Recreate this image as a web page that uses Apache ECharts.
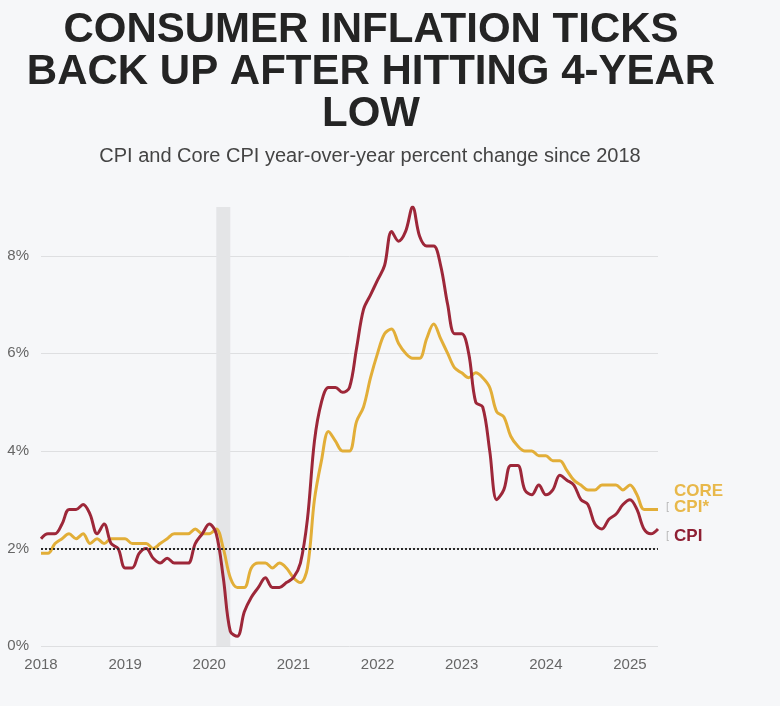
<!DOCTYPE html>
<html>
<head>
<meta charset="utf-8">
<title>Consumer inflation ticks back up after hitting 4-year low</title>
<script src="https://cdn.jsdelivr.net/npm/echarts@6/dist/echarts.min.js"></script>
<style>
  html, body { margin: 0; padding: 0; background: #f6f7f9; }
  #chart { width: 780px; height: 706px; }
</style>
</head>
<body>
<div id="chart"></div>
<script>
// monthly categories, Jan 2018 .. May 2025
const years = ['2018', '2019', '2020', '2021', '2022', '2023', '2024', '2025']
const lastMonth = '2025-05'
const months = []
years.forEach(y => {
  for (let m = 1; m <= 12; m++) {
    const key = y + '-' + String(m).padStart(2, '0')
    if (key <= lastMonth) months.push(key)
  }
})

// year-over-year % change
const cpi = [
  2.2, 2.3, 2.3, 2.5, 2.8, 2.8, 2.9, 2.7, 2.3, 2.5, 2.1, 2.0, // 2018
  1.6, 1.6, 1.9, 2.0, 1.8, 1.7, 1.8, 1.7, 1.7, 1.7, 2.1, 2.3, // 2019
  2.5, 2.3, 1.4, 0.3, 0.2, 0.7, 1.0, 1.2, 1.4, 1.2, 1.2, 1.3, // 2020
  1.4, 1.7, 2.6, 4.2, 5.0, 5.3, 5.3, 5.2, 5.3, 6.1, 6.9, 7.2, // 2021
  7.5, 7.8, 8.5, 8.3, 8.5, 9.0, 8.4, 8.2, 8.2, 7.8, 7.0, 6.4, // 2022
  6.4, 6.0, 5.0, 4.9, 4.0, 3.0, 3.2, 3.7, 3.7, 3.2, 3.1, 3.3, // 2023
  3.1, 3.2, 3.5, 3.4, 3.3, 3.0, 2.9, 2.5, 2.4, 2.6, 2.7, 2.9, // 2024
  3.0, 2.8, 2.4, 2.3, 2.4                                    // 2025
]

const coreCpi = [
  1.9, 1.9, 2.1, 2.2, 2.3, 2.2, 2.3, 2.1, 2.2, 2.1, 2.2, 2.2, // 2018
  2.2, 2.1, 2.1, 2.1, 2.0, 2.1, 2.2, 2.3, 2.3, 2.3, 2.4, 2.3, // 2019
  2.3, 2.4, 2.0, 1.4, 1.2, 1.2, 1.6, 1.7, 1.7, 1.6, 1.7, 1.6, // 2020
  1.4, 1.3, 1.6, 3.0, 3.8, 4.4, 4.2, 4.0, 4.0, 4.6, 4.9, 5.5, // 2021
  6.0, 6.4, 6.5, 6.2, 6.0, 5.9, 5.9, 6.3, 6.6, 6.3, 6.0, 5.7, // 2022
  5.6, 5.5, 5.6, 5.5, 5.3, 4.8, 4.7, 4.3, 4.1, 4.0, 4.0, 3.9, // 2023
  3.9, 3.8, 3.8, 3.6, 3.4, 3.3, 3.2, 3.2, 3.3, 3.3, 3.3, 3.2, // 2024
  3.3, 3.1, 2.8, 2.8, 2.8                                    // 2025
]

const targetRate = 2
const recession = ['2020-02', '2020-04']
const yMax = 9

const titleLines = ['CONSUMER INFLATION TICKS', 'BACK UP AFTER HITTING 4-YEAR', 'LOW']
const subtitle = 'CPI and Core CPI year-over-year percent change since 2018'

const sans = "'Liberation Sans', Arial, sans-serif"
const red = '#9d2739'
const gold = '#e2ae38'
const grid = '#dedfe1'

const chart = echarts.init(document.getElementById('chart'))

const option = {
  backgroundColor: '#f6f7f9',
  animation: false,
  graphic: [
    ...titleLines.map((t, i) => ({
      type: 'text',
      x: 371,
      y: 30 + i * 42,
      style: {
        text: t,
        font: 'bold 42px ' + sans,
        fill: '#242424',
        textAlign: 'center',
        textVerticalAlign: 'middle'
      }
    })),
    {
      type: 'text',
      x: 370,
      y: 156,
      style: {
        text: subtitle,
        font: '20px ' + sans,
        fill: '#444',
        textAlign: 'center',
        textVerticalAlign: 'middle'
      }
    }
  ],
  grid: { left: 41, right: 122, top: 207, bottom: 60 },
  xAxis: {
    type: 'category',
    data: months,
    boundaryGap: false,
    axisLine: { show: false },
    axisTick: { show: false },
    splitLine: { show: false },
    axisLabel: {
      interval: (i, v) => v.endsWith('-01'),
      formatter: v => v.slice(0, 4),
      color: '#666',
      fontFamily: sans,
      fontSize: 15,
      margin: 11
    }
  },
  yAxis: {
    type: 'value',
    min: 0,
    max: yMax,
    interval: 2,
    axisLine: { show: false },
    axisTick: { show: false },
    axisLabel: {
      formatter: '{value}%',
      showMaxLabel: false,
      color: '#666',
      fontFamily: sans,
      fontSize: 15,
      margin: 12
    },
    splitLine: {
      lineStyle: { color: [grid, grid, grid, grid, grid, 'rgba(0,0,0,0)'], width: 1 }
    }
  },
  series: [
    {
      name: 'Core CPI',
      type: 'line',
      data: coreCpi,
      smooth: 0.35,
      symbol: 'none',
      lineStyle: { color: gold, width: 3 },
      markArea: {
        silent: true,
        itemStyle: { color: '#e4e5e7' },
        data: [[{ xAxis: recession[0] }, { xAxis: recession[1] }]]
      },
      markLine: {
        silent: true,
        symbol: 'none',
        label: { show: false },
        lineStyle: { color: '#2a2a2a', type: [2, 2], width: 2 },
        data: [{ yAxis: targetRate }]
      },
      endLabel: {
        show: true,
        offset: [0, -10],
        formatter: '{h|[}{t|CORE}\n{m|[}{t|CPI*}',
        rich: {
          h: { color: 'rgba(0,0,0,0)', fontSize: 11, fontFamily: sans, padding: [0, 5, 0, 0] },
          m: { color: '#b8b8b8', fontSize: 11, fontFamily: sans, padding: [0, 5, 0, 0] },
          t: { color: '#e8b84a', fontSize: 17, fontWeight: 'bold', fontFamily: sans, lineHeight: 16 }
        }
      }
    },
    {
      name: 'CPI',
      type: 'line',
      data: cpi,
      smooth: 0.35,
      symbol: 'none',
      lineStyle: { color: red, width: 3 },
      endLabel: {
        show: true,
        offset: [0, 7],
        formatter: '{m|[}{t|CPI}',
        rich: {
          m: { color: '#b8b8b8', fontSize: 11, fontFamily: sans, padding: [0, 5, 0, 0] },
          t: { color: '#8e1f33', fontSize: 17, fontWeight: 'bold', fontFamily: sans, lineHeight: 16 }
        }
      }
    }
  ]
}

chart.setOption(option)
window.addEventListener('resize', () => chart.resize())
</script>
</body>
</html>
